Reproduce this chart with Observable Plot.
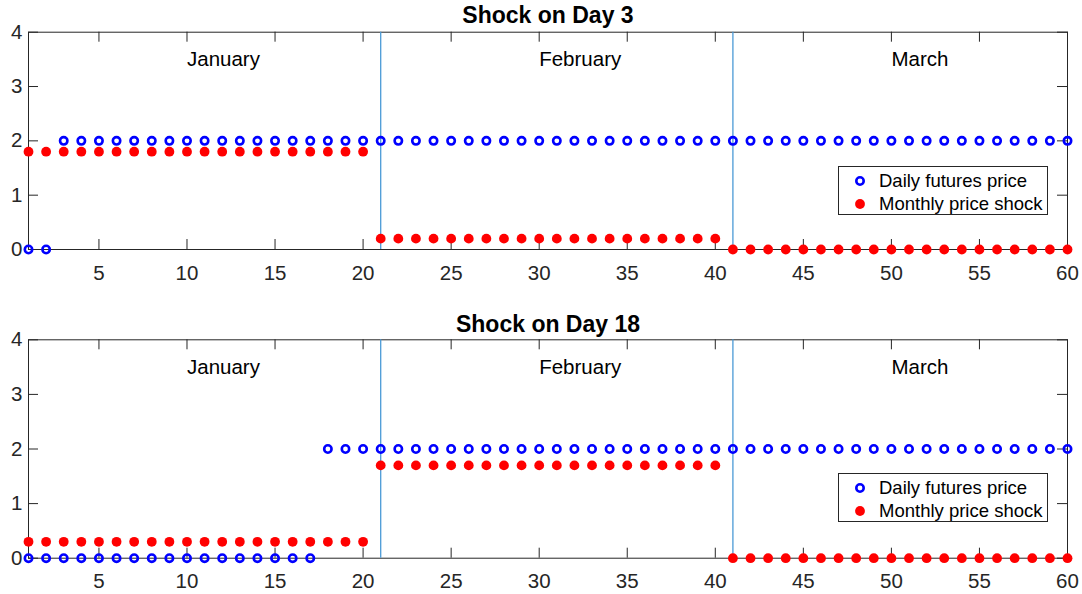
<!DOCTYPE html>
<html><head><meta charset="utf-8">
<script src="https://cdn.jsdelivr.net/npm/d3@7"></script>
<script src="https://cdn.jsdelivr.net/npm/@observablehq/plot@0.6"></script>
<style>
body{margin:0;background:#fff;font-family:"Liberation Sans",Arial,sans-serif;}
#wrap{position:relative;width:1082px;height:594px;overflow:hidden;}
.panel{position:absolute;left:0;width:1082px;height:297px;}
.panel svg{overflow:visible;}
.legend{position:absolute;left:838px;width:210px;height:49px;border:1px solid #262626;background:#fff;box-sizing:border-box;}
.legend .row{position:absolute;left:0;height:22px;width:100%;}
.legend svg{position:absolute;left:11px;top:1px;}
.legend span{position:absolute;left:40px;top:0;font-size:18.5px;line-height:22px;color:#000;white-space:nowrap;}
</style></head>
<body><div id="wrap"></div>
<script>
// ---- data ----
const day = [1,2,3,4,5,6,7,8,9,10,11,12,13,14,15,16,17,18,19,20,21,22,23,24,25,26,27,28,29,30,31,32,33,34,35,36,37,38,39,40,41,42,43,44,45,46,47,48,49,50,51,52,53,54,55,56,57,58,59,60];
const dailyDay3 = [0,0,2,2,2,2,2,2,2,2,2,2,2,2,2,2,2,2,2,2,2,2,2,2,2,2,2,2,2,2,2,2,2,2,2,2,2,2,2,2,2,2,2,2,2,2,2,2,2,2,2,2,2,2,2,2,2,2,2,2];
const shockDay3 = [1.8,1.8,1.8,1.8,1.8,1.8,1.8,1.8,1.8,1.8,1.8,1.8,1.8,1.8,1.8,1.8,1.8,1.8,1.8,1.8,0.2,0.2,0.2,0.2,0.2,0.2,0.2,0.2,0.2,0.2,0.2,0.2,0.2,0.2,0.2,0.2,0.2,0.2,0.2,0.2,0,0,0,0,0,0,0,0,0,0,0,0,0,0,0,0,0,0,0,0];
const dailyDay18 = [0,0,0,0,0,0,0,0,0,0,0,0,0,0,0,0,0,2,2,2,2,2,2,2,2,2,2,2,2,2,2,2,2,2,2,2,2,2,2,2,2,2,2,2,2,2,2,2,2,2,2,2,2,2,2,2,2,2,2,2];
const shockDay18 = [0.3,0.3,0.3,0.3,0.3,0.3,0.3,0.3,0.3,0.3,0.3,0.3,0.3,0.3,0.3,0.3,0.3,0.3,0.3,0.3,1.7,1.7,1.7,1.7,1.7,1.7,1.7,1.7,1.7,1.7,1.7,1.7,1.7,1.7,1.7,1.7,1.7,1.7,1.7,1.7,0,0,0,0,0,0,0,0,0,0,0,0,0,0,0,0,0,0,0,0];
const months = ["January","February","March"];
const monthLabelX = [10,30,50];
const monthLabelY = 3.5;
const monthBoundaries = [21,41];
const xTicks = [5,10,15,20,25,30,35,40,45,50,55,60];
const yTicks = [0,1,2,3,4];
const titles = ["Shock on Day 3","Shock on Day 18"];
const seriesNames = ["Daily futures price","Monthly price shock"];

const BLUE = "#0000ff", RED = "#ff0000", INK = "#262626";

function panel(title, daily, shock, marginTop, marginBottom, titleDy) {
  const W = 1082, H = 297, mL = 28, mR = 15;
  const innerW = W - mL - mR, innerH = H - marginTop - marginBottom;
  const data = day.map((d, i) => ({day: d, daily: daily[i], shock: shock[i]}));
  return Plot.plot({
    width: W, height: H,
    marginLeft: mL, marginRight: mR, marginTop, marginBottom,
    x: {domain: [1, 60], label: null},
    y: {domain: [0, 4], label: null},
    style: {fontFamily: "'Liberation Sans', Arial, sans-serif", background: "transparent", overflow: "visible"},
    marks: [
      Plot.frame({stroke: INK, strokeWidth: 1}),
      Plot.tickX(xTicks, {x: d => d, stroke: INK, insetTop: innerH - 10}),
      Plot.tickX(xTicks, {x: d => d, stroke: INK, insetBottom: innerH - 10}),
      Plot.tickY(yTicks, {y: d => d, stroke: INK, insetRight: innerW - 10}),
      Plot.tickY(yTicks, {y: d => d, stroke: INK, insetLeft: innerW - 10}),
      Plot.axisX(xTicks, {tickSize: 0, tickPadding: 15.5, fontSize: 20.5, color: INK, label: null, tickFormat: d3.format("d")}),
      Plot.axisY(yTicks, {tickSize: 0, tickPadding: 6, fontSize: 20.5, color: INK, label: null, tickFormat: d3.format("d")}),
      Plot.ruleX(monthBoundaries, {x: d => d, stroke: "#4a9ad6", strokeWidth: 1.3}),
      Plot.text(months, {x: (d, i) => monthLabelX[i], y: () => monthLabelY, text: d => d, textAnchor: "start", fontSize: 20.5, fill: "#000"}),
      Plot.dot(data, {x: "day", y: "daily", r: 3.7, stroke: BLUE, strokeWidth: 2.6, fill: "none"}),
      Plot.dot(data, {x: "day", y: "shock", r: 4.9, fill: RED, stroke: "none"}),
      Plot.text([title], {frameAnchor: "top", dy: titleDy, text: d => d, fontSize: 23, fontWeight: "bold", fill: "#000", lineAnchor: "middle"})
    ]
  });
}

function legend(top) {
  const el = document.createElement("div");
  el.className = "legend";
  el.style.top = top + "px";
  const rows = [
    {name: seriesNames[0], svg: `<svg width="20" height="20"><circle cx="10" cy="10" r="3.7" fill="none" stroke="${BLUE}" stroke-width="2.6"/></svg>`},
    {name: seriesNames[1], svg: `<svg width="20" height="20"><circle cx="10" cy="10" r="4.9" fill="${RED}"/></svg>`}
  ];
  rows.forEach((r, i) => {
    const row = document.createElement("div");
    row.className = "row";
    row.style.top = (3 + i * 22.5) + "px";
    row.innerHTML = r.svg + `<span>${r.name}</span>`;
    el.appendChild(row);
  });
  return el;
}

const wrap = document.getElementById("wrap");
const p1 = document.createElement("div"); p1.className = "panel"; p1.style.top = "0px";
p1.appendChild(panel(titles[0], dailyDay3, shockDay3, 31.7, 48, -16.4));
const p2 = document.createElement("div"); p2.className = "panel"; p2.style.top = "297px";
p2.appendChild(panel(titles[1], dailyDay18, shockDay18, 42.3, 36.3, -14.8));
wrap.appendChild(p1); wrap.appendChild(p2);
wrap.appendChild(legend(166));
wrap.appendChild(legend(473));
</script>
</body></html>
